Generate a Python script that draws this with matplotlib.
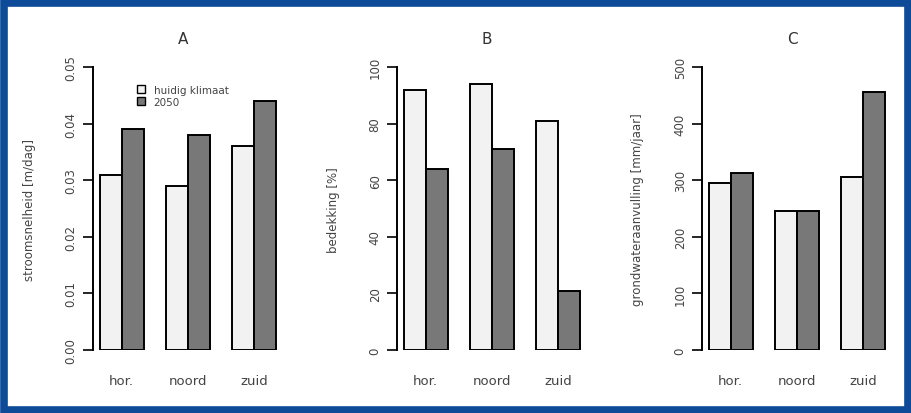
import matplotlib.pyplot as plt
import matplotlib.patches as mpatches
import numpy as np

# data
regio = ['hor.', 'noord', 'zuid']
series = ['huidig klimaat', '2050']

stroom_huidig = [0.031, 0.029, 0.036]
stroom_2050 = [0.039, 0.038, 0.044]
bedekking_huidig = [92, 94, 81]
bedekking_2050 = [64, 71, 21]
aanvulling_huidig = [295, 245, 305]
aanvulling_2050 = [312, 245, 455]

panels = [
    ('A', 'stroomsnelheid [m/dag]', stroom_huidig, stroom_2050,
     [0, 0.01, 0.02, 0.03, 0.04, 0.05], ['0.00', '0.01', '0.02', '0.03', '0.04', '0.05']),
    ('B', 'bedekking [%]', bedekking_huidig, bedekking_2050,
     [0, 20, 40, 60, 80, 100], ['0', '20', '40', '60', '80', '100']),
    ('C', 'grondwateraanvulling [mm/jaar]', aanvulling_huidig, aanvulling_2050,
     [0, 100, 200, 300, 400, 500], ['0', '100', '200', '300', '400', '500']),
]

W, H = 911, 414
fig = plt.figure(figsize=(W / 100, H / 100), dpi=100)
fig.patch.set_facecolor('white')

light = '#f2f2f2'
dark = '#787878'
txt = '#444444'

lefts = [93, 397, 702]
ylab_x = [30, 333, 638]
ax_w = 192
ax_top, ax_bot = 68, 351

x = np.arange(len(regio)) * 3
for i, (title, ylabel, v1, v2, ticks, labels) in enumerate(panels):
    ax = fig.add_axes([lefts[i] / W, (H - ax_bot) / H, ax_w / W, (ax_bot - ax_top) / H])
    ax.bar(x + 0.5, v1, width=1, color=light, edgecolor='black', linewidth=1.4)
    ax.bar(x + 1.5, v2, width=1, color=dark, edgecolor='black', linewidth=1.4)
    ax.set_xlim(-0.3, 8.4)
    ax.set_ylim(0, ticks[-1])
    for s in ['top', 'right', 'bottom']:
        ax.spines[s].set_visible(False)
    ax.spines['left'].set_linewidth(1.4)
    ax.set_yticks(ticks)
    ax.set_yticklabels(labels, rotation=90, va='center', fontsize=8.5, color=txt)
    ax.tick_params(axis='y', length=7, width=1.2, pad=4)
    ax.set_xticks(x + 1)
    ax.set_xticklabels(regio, fontsize=9.5, color=txt)
    ax.tick_params(axis='x', length=0, pad=17)
    ax.set_facecolor('none')
    fig.text((lefts[i] + 90) / W, (H - 40) / H, title, ha='center', va='center',
             fontsize=11, color='#333333')
    fig.text(ylab_x[i] / W, (H - 210) / H, ylabel, rotation=90, ha='center',
             va='center', fontsize=8.5, color=txt)
    if i == 0:
        handles = [mpatches.Patch(facecolor=light, edgecolor='black', label=series[0]),
                   mpatches.Patch(facecolor=dark, edgecolor='black', label=series[1])]
        ax.legend(handles=handles, loc='upper left', bbox_to_anchor=(0.18, 0.97),
                  frameon=False, fontsize=7.5, handlelength=0.8, handleheight=0.8,
                  handletextpad=0.8, labelspacing=0.2, labelcolor=txt)

# blauwe rand
fig.patches.append(mpatches.Rectangle((3.5 / W, 3.5 / H), 1 - 7 / W, 1 - 7 / H,
                                      transform=fig.transFigure, fill=False,
                                      edgecolor='#0d4b98', linewidth=5.5))

fig.savefig('out.png', dpi=100)
